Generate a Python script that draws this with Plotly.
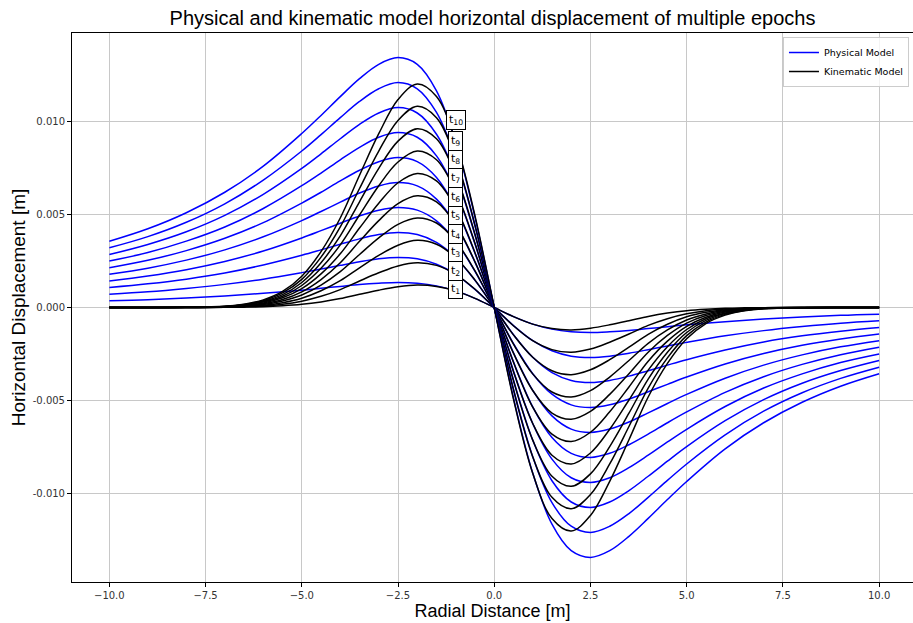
import plotly.graph_objects as go

# Radial distance sample positions [m]
x_phys = [-10, -9, -8, -7, -6, -5, -4.5, -4, -3.5, -3, -2.5, -2, -1.5, -1, -0.5, 0,
          0.5, 1, 1.5, 2, 2.5, 3, 3.5, 4, 4.5, 5, 6, 7, 8, 9, 10]
x_kin = [-10, -9, -8, -7, -6.5, -6, -5.5, -5, -4.5, -4, -3.5, -3, -2.5, -2, -1.5, -1, -0.5, 0,
         0.5, 1, 1.5, 2, 2.5, 3, 3.5, 4, 4.5, 5, 5.5, 6, 6.5, 7, 8, 9, 10]

# Physical model horizontal displacement [m], epochs t1..t10
phys_t1 = [0.00036,0.00042,0.00051,0.00062,0.00076,0.00093,0.00103,0.00113,0.00123,0.00130,0.00134,0.00130,0.00116,0.00089,0.00049,0.0,-0.00049,-0.00089,-0.00116,-0.00130,-0.00134,-0.00130,-0.00123,-0.00113,-0.00103,-0.00093,-0.00076,-0.00062,-0.00051,-0.00042,-0.00036]
phys_t2 = [0.00071,0.00084,0.00102,0.00124,0.00152,0.00187,0.00206,0.00226,0.00245,0.00261,0.00268,0.00261,0.00232,0.00178,0.00097,0.0,-0.00097,-0.00178,-0.00232,-0.00261,-0.00268,-0.00261,-0.00245,-0.00226,-0.00206,-0.00187,-0.00152,-0.00124,-0.00102,-0.00084,-0.00071]
phys_t3 = [0.00107,0.00127,0.00152,0.00185,0.00228,0.00280,0.00309,0.00339,0.00368,0.00391,0.00402,0.00391,0.00349,0.00267,0.00146,0.0,-0.00146,-0.00267,-0.00349,-0.00391,-0.00402,-0.00391,-0.00368,-0.00339,-0.00309,-0.00280,-0.00228,-0.00185,-0.00152,-0.00127,-0.00107]
phys_t4 = [0.00142,0.00169,0.00203,0.00247,0.00303,0.00373,0.00412,0.00452,0.00491,0.00522,0.00536,0.00522,0.00465,0.00355,0.00194,0.0,-0.00194,-0.00355,-0.00465,-0.00522,-0.00536,-0.00522,-0.00491,-0.00452,-0.00412,-0.00373,-0.00303,-0.00247,-0.00203,-0.00169,-0.00142]
phys_t5 = [0.00178,0.00211,0.00254,0.00309,0.00379,0.00466,0.00515,0.00565,0.00614,0.00652,0.00670,0.00652,0.00581,0.00444,0.00243,0.0,-0.00243,-0.00444,-0.00581,-0.00652,-0.00670,-0.00652,-0.00614,-0.00565,-0.00515,-0.00466,-0.00379,-0.00309,-0.00254,-0.00211,-0.00178]
phys_t6 = [0.00213,0.00253,0.00305,0.00371,0.00455,0.00560,0.00618,0.00679,0.00736,0.00782,0.00804,0.00782,0.00697,0.00533,0.00291,0.0,-0.00291,-0.00533,-0.00697,-0.00782,-0.00804,-0.00782,-0.00736,-0.00679,-0.00618,-0.00560,-0.00455,-0.00371,-0.00305,-0.00253,-0.00213]
phys_t7 = [0.00249,0.00295,0.00356,0.00432,0.00531,0.00653,0.00721,0.00792,0.00859,0.00913,0.00938,0.00913,0.00813,0.00622,0.00340,0.0,-0.00340,-0.00622,-0.00813,-0.00913,-0.00938,-0.00913,-0.00859,-0.00792,-0.00721,-0.00653,-0.00531,-0.00432,-0.00356,-0.00295,-0.00249]
phys_t8 = [0.00284,0.00338,0.00406,0.00494,0.00607,0.00746,0.00824,0.00905,0.00982,0.01043,0.01072,0.01043,0.00929,0.00711,0.00388,0.0,-0.00388,-0.00711,-0.00929,-0.01043,-0.01072,-0.01043,-0.00982,-0.00905,-0.00824,-0.00746,-0.00607,-0.00494,-0.00406,-0.00338,-0.00284]
phys_t9 = [0.00320,0.00380,0.00457,0.00556,0.00683,0.00839,0.00927,0.01018,0.01105,0.01173,0.01206,0.01173,0.01046,0.00800,0.00437,0.0,-0.00437,-0.00800,-0.01046,-0.01173,-0.01206,-0.01173,-0.01105,-0.01018,-0.00927,-0.00839,-0.00683,-0.00556,-0.00457,-0.00380,-0.00320]
phys_t10 = [0.00355,0.00422,0.00508,0.00618,0.00758,0.00933,0.01030,0.01131,0.01227,0.01304,0.01340,0.01304,0.01162,0.00888,0.00485,0.0,-0.00485,-0.00888,-0.01162,-0.01304,-0.01340,-0.01304,-0.01227,-0.01131,-0.01030,-0.00933,-0.00758,-0.00618,-0.00508,-0.00422,-0.00355]

# Kinematic model horizontal displacement [m], epochs t1..t10
kin_t1 = [0.0,0.0,0.0,0.00001,0.00002,0.00004,0.00009,0.00017,0.00030,0.00048,0.00071,0.00093,0.00111,0.00120,0.00113,0.00089,0.00049,0.0,-0.00049,-0.00089,-0.00113,-0.00120,-0.00111,-0.00093,-0.00071,-0.00048,-0.00030,-0.00017,-0.00009,-0.00004,-0.00002,-0.00001,0.0,0.0,0.0]
kin_t2 = [0.0,0.0,0.0,0.00001,0.00004,0.00008,0.00017,0.00034,0.00060,0.00096,0.00142,0.00186,0.00223,0.00240,0.00226,0.00178,0.00098,0.0,-0.00098,-0.00178,-0.00226,-0.00240,-0.00223,-0.00186,-0.00142,-0.00096,-0.00060,-0.00034,-0.00017,-0.00008,-0.00004,-0.00001,0.0,0.0,0.0]
kin_t3 = [0.0,0.0,0.0,0.00002,0.00005,0.00012,0.00026,0.00050,0.00090,0.00144,0.00213,0.00280,0.00334,0.00360,0.00339,0.00267,0.00147,0.0,-0.00147,-0.00267,-0.00339,-0.00360,-0.00334,-0.00280,-0.00213,-0.00144,-0.00090,-0.00050,-0.00026,-0.00012,-0.00005,-0.00002,0.0,0.0,0.0]
kin_t4 = [0.0,0.0,0.0,0.00003,0.00007,0.00016,0.00035,0.00067,0.00120,0.00192,0.00284,0.00373,0.00446,0.00480,0.00453,0.00356,0.00196,0.0,-0.00196,-0.00356,-0.00453,-0.00480,-0.00446,-0.00373,-0.00284,-0.00192,-0.00120,-0.00067,-0.00035,-0.00016,-0.00007,-0.00003,0.0,0.0,0.0]
kin_t5 = [0.0,0.0,0.0,0.00004,0.00009,0.00020,0.00043,0.00084,0.00150,0.00240,0.00355,0.00466,0.00557,0.00599,0.00566,0.00445,0.00245,0.0,-0.00245,-0.00445,-0.00566,-0.00599,-0.00557,-0.00466,-0.00355,-0.00240,-0.00150,-0.00084,-0.00043,-0.00020,-0.00009,-0.00004,0.0,0.0,0.0]
kin_t6 = [0.0,0.0,0.00001,0.00004,0.00011,0.00024,0.00052,0.00101,0.00180,0.00288,0.00426,0.00559,0.00669,0.00719,0.00679,0.00534,0.00294,0.0,-0.00294,-0.00534,-0.00679,-0.00719,-0.00669,-0.00559,-0.00426,-0.00288,-0.00180,-0.00101,-0.00052,-0.00024,-0.00011,-0.00004,-0.00001,0.0,0.0]
kin_t7 = [0.0,0.0,0.00001,0.00005,0.00013,0.00029,0.00060,0.00118,0.00210,0.00336,0.00496,0.00653,0.00780,0.00839,0.00792,0.00622,0.00344,0.0,-0.00344,-0.00622,-0.00792,-0.00839,-0.00780,-0.00653,-0.00496,-0.00336,-0.00210,-0.00118,-0.00060,-0.00029,-0.00013,-0.00005,-0.00001,0.0,0.0]
kin_t8 = [0.0,0.0,0.00001,0.00006,0.00014,0.00033,0.00069,0.00134,0.00240,0.00384,0.00567,0.00746,0.00892,0.00959,0.00905,0.00711,0.00393,0.0,-0.00393,-0.00711,-0.00905,-0.00959,-0.00892,-0.00746,-0.00567,-0.00384,-0.00240,-0.00134,-0.00069,-0.00033,-0.00014,-0.00006,-0.00001,0.0,0.0]
kin_t9 = [0.0,0.0,0.00001,0.00006,0.00016,0.00037,0.00078,0.00151,0.00270,0.00432,0.00638,0.00839,0.01003,0.01079,0.01018,0.00800,0.00442,0.0,-0.00442,-0.00800,-0.01018,-0.01079,-0.01003,-0.00839,-0.00638,-0.00432,-0.00270,-0.00151,-0.00078,-0.00037,-0.00016,-0.00006,-0.00001,0.0,0.0]
kin_t10 = [0.0,0.0,0.00001,0.00007,0.00018,0.00041,0.00086,0.00168,0.00300,0.00480,0.00709,0.00932,0.01115,0.01199,0.01132,0.00889,0.00491,0.0,-0.00491,-0.00889,-0.01132,-0.01199,-0.01115,-0.00932,-0.00709,-0.00480,-0.00300,-0.00168,-0.00086,-0.00041,-0.00018,-0.00007,-0.00001,0.0,0.0]

phys_series = [phys_t1, phys_t2, phys_t3, phys_t4, phys_t5, phys_t6, phys_t7, phys_t8, phys_t9, phys_t10]
kin_series = [kin_t1, kin_t2, kin_t3, kin_t4, kin_t5, kin_t6, kin_t7, kin_t8, kin_t9, kin_t10]

epoch_labels = ["1", "2", "3", "4", "5", "6", "7", "8", "9", "10"]
label_y = [0.00101, 0.00197, 0.00295, 0.00395, 0.00494, 0.00592, 0.00693, 0.00794, 0.00895, 0.01007]

x_tickvals = [-10, -7.5, -5, -2.5, 0, 2.5, 5, 7.5, 10]
x_ticktext = ["\u221210.0", "\u22127.5", "\u22125.0", "\u22122.5", "0.0", "2.5", "5.0", "7.5", "10.0"]
y_tickvals = [-0.010, -0.005, 0.0, 0.005, 0.010]
y_ticktext = ["-0.010", "-0.005", "0.000", "0.005", "0.010"]

fig = go.Figure()
for i in range(10):
    fig.add_trace(go.Scatter(
        x=x_phys, y=phys_series[i], mode="lines", name="Physical Model",
        line=dict(color="#0000ff", width=1.5, shape="spline", smoothing=1.0),
        showlegend=(i == 0), legendgroup="phys", hoverinfo="skip"))
    fig.add_trace(go.Scatter(
        x=x_kin, y=kin_series[i], mode="lines", name="Kinematic Model",
        line=dict(color="#000000", width=1.5, shape="spline", smoothing=1.0),
        showlegend=(i == 0), legendgroup="kin", hoverinfo="skip"))

annotations = []
for lab, yv in zip(epoch_labels, label_y):
    annotations.append(dict(
        x=-1.0, y=yv, xref="x", yref="y",
        text="t<sub>" + lab + "</sub>", showarrow=False,
        font=dict(family="DejaVu Sans", size=11, color="#000000"),
        bgcolor="#ffffff", bordercolor="#000000", borderwidth=1, borderpad=2,
        xanchor="center", yanchor="middle"))

axis_common = dict(
    showgrid=True, gridcolor="#c8c8c8", gridwidth=1,
    zeroline=False, showline=True, linecolor="#000000", linewidth=1,
    ticks="outside", ticklen=4, tickcolor="#000000", tickwidth=1,
    tickfont=dict(family="DejaVu Sans", size=10, color="#333333"),
    automargin=False,
)

fig.update_layout(
    width=913, height=623,
    margin=dict(l=72, r=0, t=33, b=41),
    paper_bgcolor="#ffffff", plot_bgcolor="#ffffff",
    title=dict(text="Physical and kinematic model horizontal displacement of multiple epochs",
               font=dict(family="Liberation Sans", size=20, color="#000000"),
               x=0.5, xref="paper", xanchor="center",
               y=1 - 18 / 623, yref="container", yanchor="middle"),
    xaxis=dict(range=[-10.97, 10.88], tickvals=x_tickvals, ticktext=x_ticktext,
               mirror=True,
               title=dict(text="Radial Distance [m]", standoff=2,
                          font=dict(family="Liberation Sans", size=18, color="#000000")),
               **axis_common),
    yaxis=dict(range=[-0.01472, 0.01472], tickvals=y_tickvals, ticktext=y_ticktext,
               title=dict(text="Horizontal Displacement [m]", standoff=2,
                          font=dict(family="Liberation Sans", size=19, color="#000000")),
               **axis_common),
    legend=dict(x=0.9952, y=0.9927, xanchor="right", yanchor="top",
                bgcolor="rgba(255,255,255,0.8)", bordercolor="#cccccc", borderwidth=1,
                font=dict(family="DejaVu Sans", size=9.5, color="#000000"),
                tracegroupgap=0, itemwidth=30),
    annotations=annotations,
    showlegend=True,
)

fig.write_html("out.html")
